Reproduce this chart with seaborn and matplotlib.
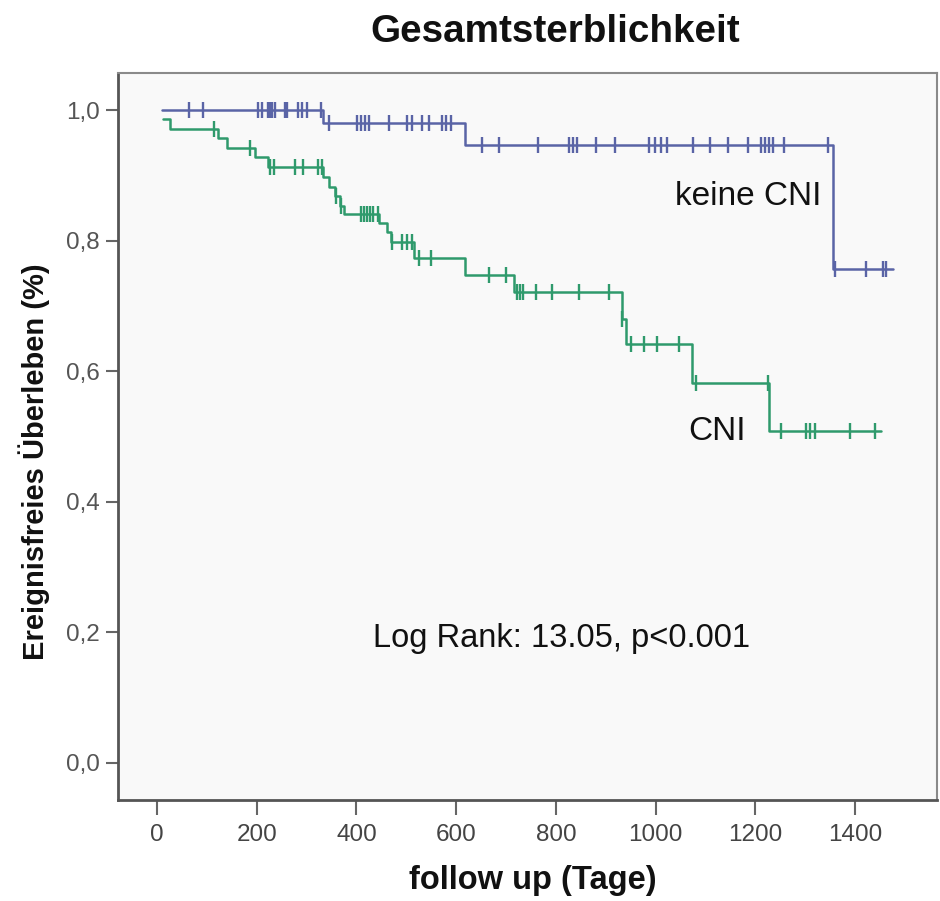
import numpy as np
import pandas as pd
import matplotlib
matplotlib.use("Agg")
import matplotlib.pyplot as plt
import seaborn as sns

# ---------------- data ----------------
blue_times = [10, 332, 618, 1356, 1476]
blue_surv = [1.0, 0.980, 0.946, 0.757, 0.757]
blue_censor = [64, 92, 202, 210, 222, 226, 230, 236, 256, 260, 282, 290, 300, 328,
               346, 402, 410, 418, 426, 466, 502, 512, 532, 546, 572, 580, 590,
               652, 686, 764, 826, 834, 842, 880, 918, 986, 998, 1010, 1022, 1074,
               1108, 1144, 1186, 1212, 1220, 1228, 1236, 1258, 1346, 1360, 1422,
               1456, 1462]

green_times = [12, 26, 122, 140, 196, 222, 332, 346, 358, 368, 376, 446, 462, 470,
               516, 618, 716, 932, 940, 1072, 1228, 1452]
green_surv = [0.986, 0.971, 0.957, 0.942, 0.928, 0.913, 0.897, 0.882, 0.868, 0.853,
              0.840, 0.827, 0.813, 0.798, 0.773, 0.747, 0.721, 0.680, 0.641, 0.582,
              0.508, 0.508]
green_censor = [114, 186, 226, 234, 276, 292, 322, 330, 360, 370, 410, 416, 422, 428,
                434, 444, 472, 492, 502, 512, 526, 550, 666, 700, 722, 728, 734, 760,
                792, 846, 906, 932, 950, 976, 1002, 1046, 1080, 1226, 1252, 1302, 1310,
                1320, 1390, 1440]

x_ticks = [0, 200, 400, 600, 800, 1000, 1200, 1400]
y_ticks = [0.0, 0.2, 0.4, 0.6, 0.8, 1.0]
y_tick_labels = ["0,0", "0,2", "0,4", "0,6", "0,8", "1,0"]

title = "Gesamtsterblichkeit"
x_label = "follow up (Tage)"
y_label = "Ereignisfreies Überleben (%)"
label_blue = "keine CNI"
label_green = "CNI"
stat_text = "Log Rank: 13.05, p<0.001"

BLUE = "#5a64a6"
GREEN = "#2f9a6c"

# ---------------- style ----------------
sns.set_theme(style="white")
plt.rcParams["font.family"] = ["Liberation Sans", "DejaVu Sans"]

fig = plt.figure(figsize=(9.4, 9.01), dpi=100)
ax = fig.add_axes([118 / 940, 1 - 800 / 901, (937 - 118) / 940, (800 - 73) / 901])
ax.set_facecolor("#f9f9f9")


def surv_at(times, surv, t):
    idx = np.searchsorted(np.asarray(times), t, side="right") - 1
    idx = np.clip(idx, 0, len(surv) - 1)
    return np.asarray(surv)[idx]


for times, surv, cens, col in [(blue_times, blue_surv, blue_censor, BLUE),
                               (green_times, green_surv, green_censor, GREEN)]:
    df = pd.DataFrame({"t": times, "s": surv})
    sns.lineplot(data=df, x="t", y="s", drawstyle="steps-post", color=col,
                 linewidth=1.8, estimator=None, sort=False, ax=ax)
    cdf = pd.DataFrame({"t": cens, "s": surv_at(times, surv, cens)})
    sns.scatterplot(data=cdf, x="t", y="s", marker="|", s=140, color=col,
                    linewidth=1.7, ax=ax, zorder=3)

ax.set_xlim(-78, 1564)
ax.set_ylim(-0.0567, 1.0567)
ax.set_xticks(x_ticks)
ax.set_xticklabels([str(v) for v in x_ticks])
ax.set_yticks(y_ticks)
ax.set_yticklabels(y_tick_labels)
ax.tick_params(axis="x", direction="out", length=11, width=1.5, color="#666666",
               labelsize=17.5, labelcolor="#444444", pad=6, bottom=True)
ax.tick_params(axis="y", direction="out", length=9, width=1.5, color="#666666",
               labelsize=17.5, labelcolor="#555555", pad=4, left=True)

for side in ["left", "bottom"]:
    ax.spines[side].set_color("#555555")
    ax.spines[side].set_linewidth(2.0)
for side in ["top", "right"]:
    ax.spines[side].set_color("#8a8a8a")
    ax.spines[side].set_linewidth(1.5)

ax.set_xlabel(x_label, fontsize=23.5, fontweight="bold", color="#111111")
ax.set_ylabel(y_label, fontsize=21, fontweight="bold", color="#111111")
ax.xaxis.set_label_coords(0.507, -0.09)
ax.yaxis.set_label_coords(-0.083, 0.465)

fig.text(0.591, 0.964, title, ha="center", va="center", fontsize=27.8,
         fontweight="bold", color="#111111")

ax.text(1038, 0.867, label_blue, ha="left", va="center", fontsize=24, color="#111111")
ax.text(1066, 0.507, label_green, ha="left", va="center", fontsize=24, color="#111111")
ax.text(812, 0.191, stat_text, ha="center", va="center", fontsize=23.5, color="#111111")

fig.savefig("out.png", dpi=100)
